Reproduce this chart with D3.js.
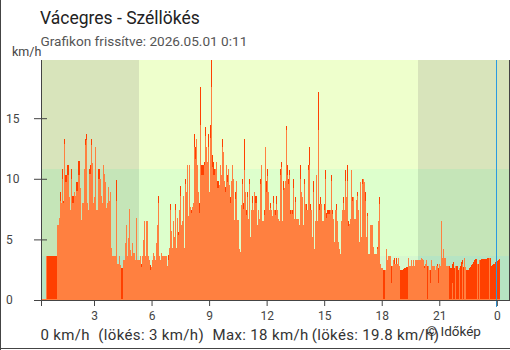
<!DOCTYPE html>
<html><head><meta charset="utf-8">
<script src="https://cdn.jsdelivr.net/npm/d3@7"></script>
<style>
body{margin:0;background:#fff;}
svg{display:block;}
text{font-family:Roboto,"Noto Sans",sans-serif;}
</style>
</head><body>
<svg id="c" width="510" height="350"></svg>
<script>
// ---- data (one reading per bar, km/h) ----
const windSpeed = [
0.1,0.1,0.1,0.1,0.1,3.6,0,0,0,0,
0,0,0,0,0,0,6.2,6.2,6.8,8.2,
8.0,9.95,8.0,12.9,9.75,9.75,10.3,10.3,8.5,7.4,
10.0,8.0,8.0,8.9,8.6,9.0,9.0,10.3,10.3,9.2,
6.6,8.0,8.0,10.8,12.8,13.2,8.0,7.4,10.4,10.4,
12.8,11.3,8.0,8.5,12.6,7.4,7.4,10.0,10.0,10.0,
8.6,8.0,11.1,10.4,9.75,7.6,8.0,9.3,8.2,8.9,
4.3,3.6,3.6,3.6,3.6,8.2,3.0,3.0,3.6,2.9,
0,0,3.3,3.3,4.7,6.2,3.6,5.1,7.5,4.1,
3.6,4.7,3.85,3.85,3.3,6.75,3.3,3.3,3.3,3.6,
2.7,3.6,4.95,6.5,3.6,6.5,6.5,3.6,3.3,2.5,
2.75,3.3,3.85,3.6,3.3,4.7,6.2,8.0,3.6,3.3,
3.85,3.6,3.6,3.6,3.6,3.6,2.8,3.3,4.26,7.4,
5.7,4.26,6.5,5.2,7.4,4.26,6.8,5.4,7.4,8.6,
6.2,6.5,8.6,4.26,9.6,8.9,11.1,6.9,11.1,7.7,
7.2,7.7,8.0,12.6,11.6,13.3,11.1,8.9,7.2,14.4,
10.3,10.3,10.3,11.1,13.5,12.6,11.4,12.6,8.9,13.4,
17.6,11.0,10.3,10.3,10.8,11.4,9.2,9.2,9.5,11.1,
10.3,12.6,12.2,9.8,8.9,11.1,9.7,10.8,9.5,8.0,
9.8,11.1,10.0,6.6,8.3,9.8,6.6,6.6,4.2,4.0,
7.8,9.6,7.5,10.7,8.9,7.0,8.5,6.7,9.6,5.2,
7.4,8.0,7.4,8.9,8.0,8.0,6.2,7.4,6.7,9.6,
11.1,6.5,6.5,7.0,12.6,8.9,10.2,8.9,7.4,7.6,
7.4,6.9,8.0,7.4,7.0,7.9,7.4,6.7,6.5,10.3,
11.0,6.5,9.1,9.2,9.8,14.0,10.3,9.6,10.3,7.1,
7.4,7.1,9.2,6.7,8.1,6.7,6.7,6.7,6.2,10.0,
8.9,8.5,6.2,9.6,7.9,7.4,7.4,10.7,11.1,7.4,
7.4,5.2,8.9,4.2,6.5,10.3,6.5,14.0,7.4,7.9,
7.9,6.5,6.5,7.4,10.0,6.8,7.1,7.1,7.1,7.4,
9.8,7.1,6.7,4.8,7.4,7.4,6.5,4.8,4.2,3.8,
6.5,7.4,8.0,7.4,9.8,8.5,9.8,6.1,6.3,6.7,
10.7,8.2,8.5,6.7,6.7,8.25,8.6,7.4,4.8,9.76,
5.2,9.6,10.0,9.76,8.2,5.2,6.9,3.8,3.8,6.2,
6.2,6.2,4.4,3.8,3.8,3.8,4.2,6.5,7.9,3.0,
2.6,2.6,0.1,0.1,2.5,4.2,3.3,3.6,3.6,3.6,
1.4,2.8,3.3,3.0,3.0,3.0,3.0,3.5,2.8,0,
0,0,0,0,0,0,0,3.5,2.8,2.8,
3.3,2.8,3.3,2.8,3.3,3.3,3.3,3.3,3.3,3.3,
3.5,3.4,3.3,2.6,3.0,3.3,0,2.8,2.5,1.4,
3.3,2.8,2.8,2.8,2.5,2.8,2.8,1.4,3.0,2.8,
6.5,3.5,4.2,3.5,3.5,2.8,2.8,2.8,0,0,
0,1.4,0,0,2.8,0,0,0,2.6,0,
0,3.0,0,3.5,2.7,0,0,0,0,0,
0,0,0,0,0,0,3.0,0,3.3,0,
0,0,0,0,0,0,0,0,3.5,0,
0,0,0,0,0,0,0,0,0
];
const gustSpeed = [
0.1,0.1,0.1,0.1,0.1,3.6,3.6,3.6,3.6,3.6,
3.6,3.6,3.6,3.6,3.6,3.6,6.2,6.2,6.8,8.9,
8.0,10.8,8.2,13.3,10.3,10.3,11.1,11.1,8.5,7.4,
10.8,8.6,8.6,8.9,8.6,9.75,9.75,11.5,11.5,9.2,
6.6,8.0,8.0,10.8,13.3,13.7,8.0,7.4,10.8,11.1,
13.3,11.3,8.0,8.5,12.6,7.4,7.4,10.8,10.8,10.0,
8.6,8.0,11.1,10.4,9.75,7.6,8.0,9.3,8.2,8.9,
4.3,3.6,3.6,3.6,3.6,9.9,3.0,3.0,3.6,2.9,
2.6,2.6,3.3,3.3,4.7,6.2,3.6,5.1,7.5,4.1,
3.6,4.7,3.85,3.85,3.3,6.75,3.3,3.3,3.3,3.6,
3.0,3.6,4.95,6.5,3.6,6.5,6.5,3.6,3.3,2.9,
2.75,3.3,3.85,3.6,3.3,4.7,6.2,8.6,3.6,3.3,
3.85,3.6,3.6,3.6,3.6,3.6,2.8,3.7,4.26,7.9,
5.7,4.26,6.5,5.2,7.9,4.26,6.8,5.6,7.4,9.4,
6.2,6.5,8.6,4.26,10.0,8.9,11.1,6.9,11.1,7.7,
7.4,7.7,8.0,13.7,12.6,13.3,11.1,8.9,8.0,17.6,
11.1,11.1,11.1,11.4,14.3,12.6,11.4,13.7,8.9,14.4,
19.8,12.0,11.4,10.8,10.8,11.4,9.8,9.8,9.5,11.1,
10.3,13.3,12.2,9.8,9.3,11.1,10.3,10.8,9.5,8.5,
9.8,11.1,10.0,6.6,8.9,9.8,6.6,6.6,4.2,4.0,
7.8,10.0,8.0,13.3,8.9,7.4,8.9,6.7,10.0,5.2,
7.4,8.6,7.4,8.9,8.6,8.6,6.2,7.4,6.7,10.0,
11.1,6.5,6.5,7.4,12.6,9.8,10.8,8.9,7.4,8.0,
7.4,6.9,8.6,7.4,7.4,8.6,7.4,6.7,6.5,10.8,
11.4,6.5,9.8,9.2,9.8,14.35,11.1,10.0,10.7,7.4,
7.4,7.4,10.0,6.7,8.5,6.7,6.7,6.7,6.2,11.1,
8.9,8.5,6.2,10.0,7.9,7.9,7.4,11.1,12.6,7.9,
7.4,5.2,9.8,4.2,6.5,10.3,6.5,17.2,7.9,8.5,
7.9,6.5,6.5,7.9,10.7,7.2,7.4,7.4,7.4,7.4,
10.3,7.4,6.7,4.8,7.4,7.9,6.5,4.8,4.2,3.8,
6.5,7.4,8.5,7.4,10.7,8.5,11.1,6.5,6.3,6.7,
10.7,8.5,8.5,6.7,6.7,8.25,8.9,7.4,4.8,9.76,
5.2,10.0,10.0,9.76,8.9,5.2,7.2,3.8,3.8,6.2,
6.2,6.2,4.4,3.8,3.8,3.8,4.4,6.5,8.5,3.0,
2.6,2.6,2.5,2.5,2.5,4.2,3.3,3.6,3.6,3.6,
2.8,2.8,3.3,3.5,3.0,3.5,3.0,3.5,2.8,2.5,
2.5,2.5,2.55,2.6,2.65,2.7,2.75,3.5,2.8,2.8,
3.3,2.8,3.3,2.8,3.3,3.3,3.3,3.3,3.3,3.3,
3.5,3.4,3.3,2.8,3.0,3.3,2.8,2.8,2.5,2.5,
3.3,2.8,2.8,2.8,2.5,2.8,3.0,2.6,3.0,2.8,
6.5,3.5,4.2,3.5,3.5,2.8,2.8,2.8,2.8,2.6,
2.6,3.0,3.1,2.6,2.8,2.8,2.8,2.5,2.6,2.8,
3.1,3.3,2.7,3.5,2.7,2.5,2.5,2.5,2.6,2.7,
2.9,3.0,3.1,3.3,3.35,3.4,3.0,3.0,3.3,3.3,
3.35,3.35,3.35,3.35,3.35,3.4,3.45,3.45,3.5,3.5,
2.8,2.9,3.0,3.0,3.1,3.2,3.2,3.3,3.35
];
const startHour = 0.2367;      // first reading, hours after 30 Apr 00:00
const stepMinutes = 3.128;     // spacing of readings
const yTicks = [0, 5, 10, 15];
const xTickHours = [3, 6, 9, 12, 15, 18, 21, 24];
const xTickLabels = ["3", "6", "9", "12", "15", "18", "21", "0"];
const bandLimits = [0, 3.6, 10.8, 19.8];   // km/h (0, 1 m/s, 3 m/s, top)
const dayColors = ["#d6f8cf", "#ddffcc", "#eeffcc"];
const nightColors = ["#b6e4c3", "#c5e5b8", "#d8e4bb"];
const nightSpans = [[0.2367, 5.35], [19.89, 24.64]];
const midnightHour = 24;
const titleText = "Vácegres - Széllökés";
const subtitleText = "Grafikon frissítve: 2026.05.01 0:11";
const footerParts = ["0 km/h", "(lökés: 3 km/h)", "Max: 18 km/h", "(lökés: 19.8 km/h)"];

// ---- chart ----
const svg = d3.select("#c");
const L = 41, R = 509, T = 60, B = 300;
const stepH = stepMinutes / 60;
const x = d3.scaleLinear().domain([startHour, startHour + (R - L) * stepH]).range([L, R]);
const y = d3.scaleLinear().domain([0, bandLimits[3]]).range([B, T]);
const endHour = x.domain()[1];

// outer frame lines
svg.append("line").attr("x1",0.5).attr("x2",0.5).attr("y1",0).attr("y2",350).attr("stroke","#444");
svg.append("line").attr("x1",0).attr("x2",510).attr("y1",348.5).attr("y2",348.5).attr("stroke","#444");

// background bands
const g = svg.append("g").attr("shape-rendering","crispEdges");
for (let b = 0; b < 3; b++) {
  g.append("rect").attr("x", x(startHour)).attr("width", x(endHour) - x(startHour))
    .attr("y", y(bandLimits[b+1])).attr("height", y(bandLimits[b]) - y(bandLimits[b+1]))
    .attr("fill", dayColors[b]);
  nightSpans.forEach(s => {
    g.append("rect").attr("x", x(s[0])).attr("width", x(Math.min(s[1], endHour)) - x(s[0]))
      .attr("y", y(bandLimits[b+1])).attr("height", y(bandLimits[b]) - y(bandLimits[b+1]))
      .attr("fill", nightColors[b]);
  });
}

const times = gustSpeed.map((_, i) => startHour + i * stepH);
// gust bars (behind)
g.selectAll("rect.gust").data(gustSpeed).join("rect").attr("class","gust")
  .attr("x", (d,i) => x(times[i])).attr("width", (d,i) => x(times[i] + stepH) - x(times[i]))
  .attr("y", d => y(d)).attr("height", d => y(0) - y(d)).attr("fill", "#ff4000");
// wind bars (front)
g.selectAll("rect.wind").data(windSpeed).join("rect").attr("class","wind")
  .attr("x", (d,i) => x(times[i])).attr("width", (d,i) => x(times[i] + stepH) - x(times[i]))
  .attr("y", d => Math.min(y(d), y(0) - 1)).attr("height", d => Math.max(1, y(0) - y(d))).attr("fill", "#ff8040");

// midnight line
svg.append("line").attr("shape-rendering","crispEdges")
  .attr("x1", Math.floor(x(midnightHour)) + 0.5).attr("x2", Math.floor(x(midnightHour)) + 0.5)
  .attr("y1", T).attr("y2", B + 7).attr("stroke", "#2a9ae0");

// axes
const yAxis = svg.append("g").attr("transform", `translate(${L},0)`)
  .call(d3.axisLeft(y).tickValues(yTicks).tickSize(7).tickPadding(0));
yAxis.select(".domain").remove();
yAxis.selectAll(".tick line").attr("x1", 6).attr("stroke", "#444");
yAxis.selectAll(".tick text").attr("text-anchor","start").attr("x", 6 - L).attr("dy","0.32em")
  .attr("fill","#444").style("font-size","12px").style("font-family","Roboto");

const xAxis = svg.append("g").attr("transform", `translate(0,${B})`)
  .call(d3.axisBottom(x).tickValues([startHour].concat(xTickHours)).tickSizeInner(6).tickSizeOuter(0)
    .tickFormat(h => { const k = xTickHours.indexOf(h); return k < 0 ? "" : xTickLabels[k]; }));
xAxis.select(".domain").remove();
xAxis.selectAll(".tick line").attr("stroke","#444");
xAxis.selectAll(".tick text").attr("y", 20).attr("dy", 0).attr("fill","#444")
  .style("font-size","12px").style("font-family","Roboto");

svg.append("g").attr("shape-rendering","crispEdges").attr("stroke","#444").call(s => {
  s.append("line").attr("x1", L + 0.5).attr("x2", L + 0.5).attr("y1", T).attr("y2", B + 1);
  s.append("line").attr("x1", L).attr("x2", R + 1).attr("y1", B + 0.5).attr("y2", B + 0.5);
  s.append("line").attr("x1", R + 0.5).attr("x2", R + 0.5).attr("y1", T).attr("y2", B + 1);
});

// texts
svg.append("text").attr("x", 40).attr("y", 24).text(titleText)
  .attr("fill","#222").style("font-size","17.5px");
svg.append("text").attr("x", 40.5).attr("y", 46).text(subtitleText)
  .attr("fill","#555").style("font-size","13.6px");
svg.append("text").attr("x", 12).attr("y", 56).text("km/h")
  .attr("fill","#444").style("font-size","12.5px");
const footX = [40.5, 98.3, 212.5, 311.7];
const ft = svg.append("text").attr("y", 340).attr("fill","#333").style("font-size","15px")
  .style("letter-spacing","0.35px");
footerParts.forEach((p, i) => ft.append("tspan").attr("x", footX[i]).text(p));
svg.append("text").attr("x", 426.5).attr("y", 335.7).text("© Időkép")
  .attr("fill","#333").style("font-size","13.5px");
</script>
</body></html>
